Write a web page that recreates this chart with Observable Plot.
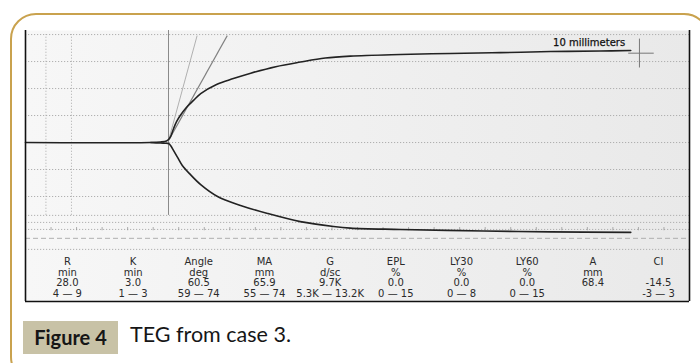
<!DOCTYPE html>
<html>
<head>
<meta charset="utf-8">
<script src="https://cdn.jsdelivr.net/npm/d3@7"></script>
<script src="https://cdn.jsdelivr.net/npm/@observablehq/plot@0.6"></script>
<style>
  html, body { margin: 0; padding: 0; background: #fff; }
  #wrap { position: relative; width: 700px; height: 363px; overflow: hidden; background: #fff; }
  #border { position: absolute; left: 10px; top: 13px; width: 700px; height: 370px; border: 2px solid #c9a24e; border-radius: 26px; box-sizing: border-box; }
  #chart { position: absolute; left: 0; top: 0; }
  #figbox { position: absolute; left: 23px; top: 321px; width: 95px; height: 33px; background: #c8c2a6; color: #161616;
    font: bold 20px Lato, sans-serif; line-height: 33px; text-align: center; }
  #figtext { position: absolute; left: 130px; top: 321px; height: 33px; line-height: 33px; color: #161616; font: 21.5px Lato, sans-serif; }
</style>
</head>
<body>
<svg width="0" height="0" style="position:absolute">
  <defs>
    <linearGradient id="paper" x1="0" x2="1" y1="0" y2="0">
      <stop offset="0" stop-color="#f7f7f7"/>
      <stop offset="1" stop-color="#e9e9e9"/>
    </linearGradient>
  </defs>
</svg>
<div id="wrap">
  <div id="border"></div>
  <div id="chart"></div>
  <div id="figbox">Figure 4</div>
  <div id="figtext">TEG from case 3.</div>
</div>
<script>
// Time (min) and half-amplitude (mm) of the TEG trace
const upperT = [0, 24.5, 26.4, 27.6, 28.0, 28.4, 29.0, 29.6, 30.3, 31.5, 32.9, 34.3, 37.4, 40.7, 44.1, 49.0, 53.8, 58.7, 63.6, 73.4, 83.2, 93.0, 102.8, 112.6, 118.5];
const upperA = [0, 0, 0.2, 0.55, 1.1, 2.2, 5.2, 7.8, 10.0, 13.0, 15.6, 18.1, 21.5, 23.7, 25.7, 28.1, 29.8, 31.3, 32.0, 32.6, 33.0, 33.3, 33.7, 33.9, 34.1];
const lowerT = [24.5, 26.4, 27.6, 28.0, 28.4, 29.0, 29.8, 30.7, 32.3, 34.3, 37.6, 42.1, 47.4, 53.8, 60.3, 63.6, 73.4, 89.7, 102.8, 118.5];
const lowerA = [0, -0.2, -0.3, -0.4, -1.1, -3.0, -5.6, -8.5, -11.9, -15.6, -20.0, -23.3, -26.3, -29.3, -31.1, -31.7, -32.2, -32.8, -33.1, -33.3];

// Angle tangent lines
const tangentStartT = [28.0, 28.0];
const tangentStartA = [0.7, 0.7];
const tangentEndT = [33.6, 39.5];
const tangentEndA = [39.6, 39.6];

// Reference lines
const rMarker = 28.0;
const rNormal = [4, 9];
const gridMain = [40, 30, 20, 10, 0, -10, -20];
const gridLower = [-27, -29.6, -32.2, -39.6];
const gridDashed = [-35.5];

// Parameter table
const params = ["R", "K", "Angle", "MA", "G", "EPL", "LY30", "LY60", "A", "CI"];
const units = ["min", "min", "deg", "mm", "d/sc", "%", "%", "%", "mm", ""];
const values = ["28.0", "3.0", "60.5", "65.9", "9.7K", "0.0", "0.0", "0.0", "68.4", "-14.5"];
const ranges = ["4 \u2014 9", "1 \u2014 3", "59 \u2014 74", "55 \u2014 74", "5.3K \u2014 13.2K", "0 \u2014 15", "0 \u2014 8", "0 \u2014 15", "", "-3 \u2014 3"];

const upper = upperT.map((t, i) => ({t, a: upperA[i]}));
const lower = lowerT.map((t, i) => ({t, a: lowerA[i]}));
const tangents = tangentStartT.map((t, i) => ({t1: t, a1: tangentStartA[i], t2: tangentEndT[i], a2: tangentEndA[i], k: i}));

const rowA = [-44.3, -48.2, -52.1, -56.0];
const rows = [params, units, values, ranges];
const table = [];
rows.forEach((row, r) => row.forEach((s, i) => { if (s) table.push({t: 8.2 + 12.86 * i, a: rowA[r], s}); }));

const X0 = 0, X1 = 130, Y0 = -58.9, Y1 = 41.5;
const tickLine = -32.2;

const plot = Plot.plot({
  width: 700,
  height: 305,
  marginLeft: 25,
  marginRight: 11,
  marginTop: 30,
  marginBottom: 4,
  x: {domain: [X0, X1], axis: null},
  y: {domain: [Y0, Y1], axis: null},
  style: {background: "transparent", overflow: "visible"},
  marks: [
    Plot.frame({fill: "url(#paper)", stroke: null}),
    Plot.ruleY(gridMain, {stroke: "#a8a8a8", strokeWidth: 0.9, strokeDasharray: "1.2,1.8"}),
    Plot.ruleY(gridLower, {stroke: "#a8a8a8", strokeWidth: 0.9, strokeDasharray: "1.2,1.8"}),
    Plot.ruleY(gridDashed, {stroke: "#a8a8a8", strokeWidth: 0.9, strokeDasharray: "5,3"}),
    Plot.ruleX(d3.range(5, 130, 5), {y1: tickLine - 0.5, y2: tickLine + 0.7, stroke: "#999", strokeWidth: 0.8}),
    Plot.ruleX(rNormal, {y1: -27, y2: 40, stroke: "#b0b0b0", strokeWidth: 0.9, strokeDasharray: "1.2,1.8"}),
    Plot.ruleX([rMarker], {y1: -27, y2: Y1, stroke: "#8a8a8a", strokeWidth: 1}),
    Plot.link(tangents, {x1: "t1", y1: "a1", x2: "t2", y2: "a2", stroke: d => d.k === 0 ? "#a8a8a8" : "#808080",
      strokeWidth: d => d.k === 0 ? 0.9 : 1.1, strokeDasharray: d => d.k === 0 ? "2,2" : "3,1"}),
    Plot.line(upper, {x: "t", y: "a", stroke: "#222", strokeWidth: 1.6, curve: "catmull-rom"}),
    Plot.line(lower, {x: "t", y: "a", stroke: "#222", strokeWidth: 1.6, curve: "catmull-rom"}),
    // 10 millimeter scale cross
    Plot.link([{x1: 118, x2: 123, y1: 33.1, y2: 33.1}], {x1: "x1", x2: "x2", y1: "y1", y2: "y2", stroke: "#777", strokeWidth: 1}),
    Plot.link([{x1: 120.2, x2: 120.2, y1: 27.8, y2: 38.5}], {x1: "x1", x2: "x2", y1: "y1", y2: "y2", stroke: "#777", strokeWidth: 1}),
    Plot.text(["10 millimeters"], {x: 117.4, y: 37, text: d => d, textAnchor: "end", fontSize: 10, fill: "#111", stroke: "#111", strokeWidth: 0.25, fontFamily: "DejaVu Sans"}),
    // parameter table
    Plot.text(table, {x: "t", y: "a", text: "s", fontSize: 10, fill: "#2a2a2a", fontFamily: "DejaVu Sans"}),
    // frame lines
    Plot.ruleX([X0, X1], {y1: Y0, y2: Y1, stroke: "#111", strokeWidth: 1.6}),
    Plot.ruleY([Y0], {x1: X0, x2: X1, stroke: "#111", strokeWidth: 1.6})
  ]
});
document.getElementById("chart").appendChild(plot);
</script>
</body>
</html>
